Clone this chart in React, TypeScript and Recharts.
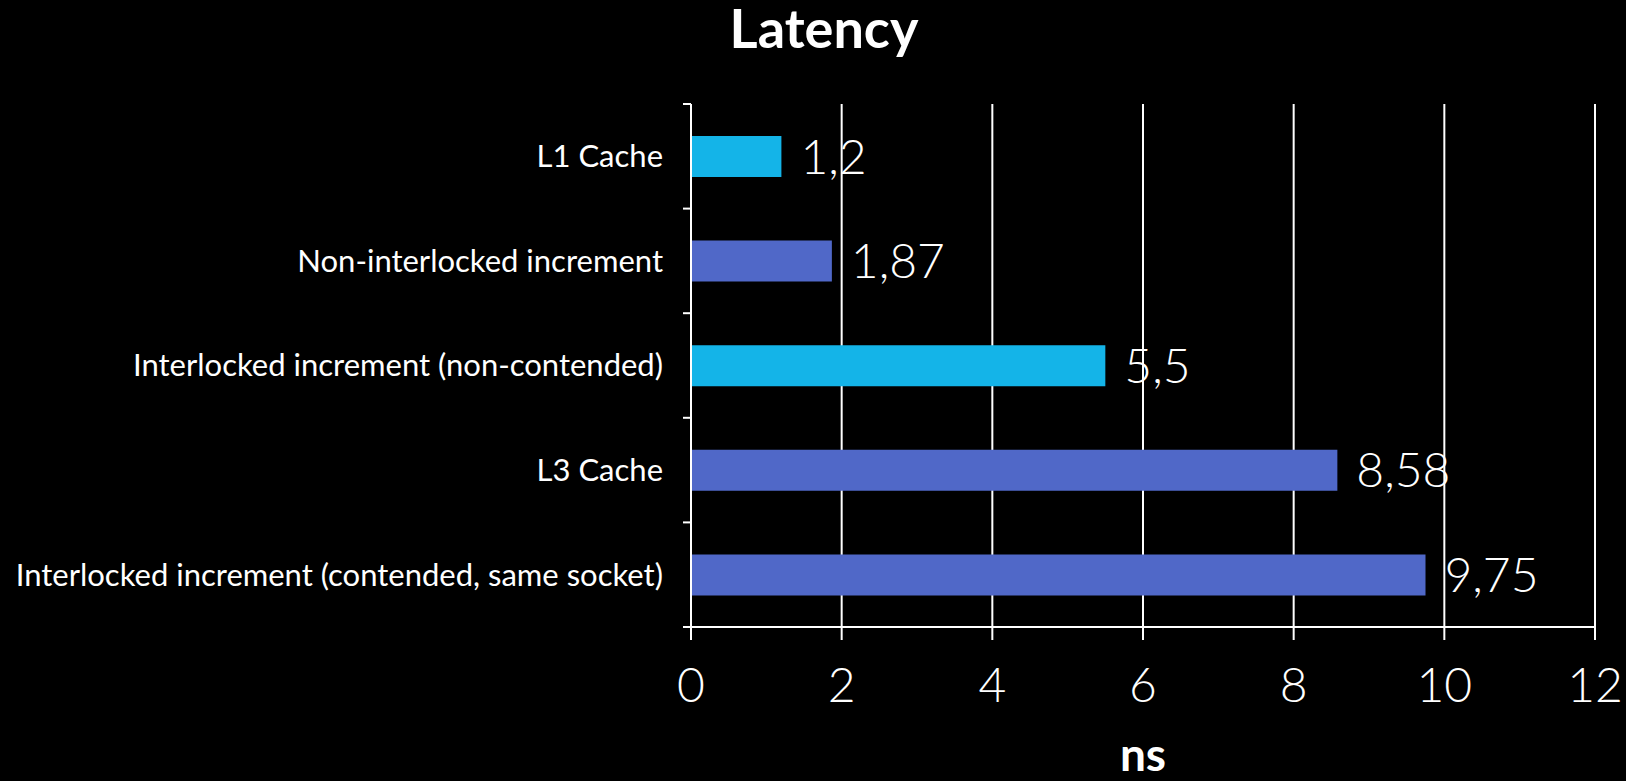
import { BarChart, Bar, XAxis, YAxis, CartesianGrid, LabelList, Cell } from 'recharts'

const categories = [
  'L1 Cache',
  'Non-interlocked increment',
  'Interlocked increment (non-contended)',
  'L3 Cache',
  'Interlocked increment (contended, same socket)',
]
const latencyNs = [1.2, 1.87, 5.5, 8.58, 9.75]
const barColors = ['#14B4E8', '#5068C8', '#14B4E8', '#5068C8', '#5068C8']
const xTicks = [0, 2, 4, 6, 8, 10, 12]

const data = categories.map((name, i) => ({ name, value: latencyNs[i] }))

const FONT = 'Lato, "Noto Sans", sans-serif'
const TICK_SIZE = 7
const TICK_MARGIN = 21

// category label plus the small boundary tick marks between bands
function CategoryTick(props: any) {
  const { x, y, payload, index, visibleTicksCount } = props
  const half = payload.offset || 0
  const axisX = x + TICK_SIZE + TICK_MARGIN
  return (
    <g>
      <text x={x} y={y} dy="0.35em" textAnchor="end" fill="#fff" fontSize={31} fontFamily={FONT}>
        {payload.value}
      </text>
      <line x1={axisX - 8} x2={axisX} y1={y - half} y2={y - half} stroke="#fff" strokeWidth={2} />
      {index === visibleTicksCount - 1 && (
        <line x1={axisX - 8} x2={axisX} y1={y + half} y2={y + half} stroke="#fff" strokeWidth={2} />
      )}
    </g>
  )
}

export default function App() {
  return (
    <div style={{ position: 'absolute', left: 0, top: 0, width: 1626, height: 781, background: '#000', fontFamily: FONT }}>
      <svg width={1626} height={80} style={{ position: 'absolute', left: 0, top: 0 }}>
        <text x={824} y={48} textAnchor="middle" fill="#fff" fontSize={54} fontWeight={700} fontFamily={FONT}>
          Latency
        </text>
      </svg>
      <BarChart
        width={1626}
        height={781}
        data={data}
        layout="vertical"
        margin={{ top: 104, right: 31, bottom: 0, left: 0 }}
        barSize={41}
      >
        <CartesianGrid horizontal={false} stroke="#fff" strokeWidth={2} />
        <YAxis
          type="category"
          dataKey="name"
          width={691}
          axisLine={{ stroke: '#fff', strokeWidth: 2 }}
          tickLine={false}
          tickSize={TICK_SIZE}
          tickMargin={TICK_MARGIN}
          interval={0}
          tick={<CategoryTick />}
        />
        <XAxis
          type="number"
          domain={[0, 12]}
          ticks={xTicks}
          height={154}
          axisLine={{ stroke: '#fff', strokeWidth: 2 }}
          tickLine={{ stroke: '#fff', strokeWidth: 2 }}
          tickSize={13}
          tickMargin={28}
          tick={{ fill: '#fff', fontSize: 48, fontFamily: FONT, fontWeight: 300 }}
          label={{ value: 'ns', position: 'insideBottom', offset: 10, fill: '#fff', fontSize: 46, fontWeight: 700, fontFamily: FONT }}
        />
        <Bar dataKey="value" isAnimationActive={false}>
          {data.map((d, i) => (
            <Cell key={d.name} fill={barColors[i]} />
          ))}
          <LabelList
            dataKey="value"
            position="right"
            offset={19}
            fill="#fff"
            fontSize={48}
            fontFamily={FONT}
            fontWeight={300}
            formatter={(v: number) => String(v).replace('.', ',')}
          />
        </Bar>
      </BarChart>
    </div>
  )
}
